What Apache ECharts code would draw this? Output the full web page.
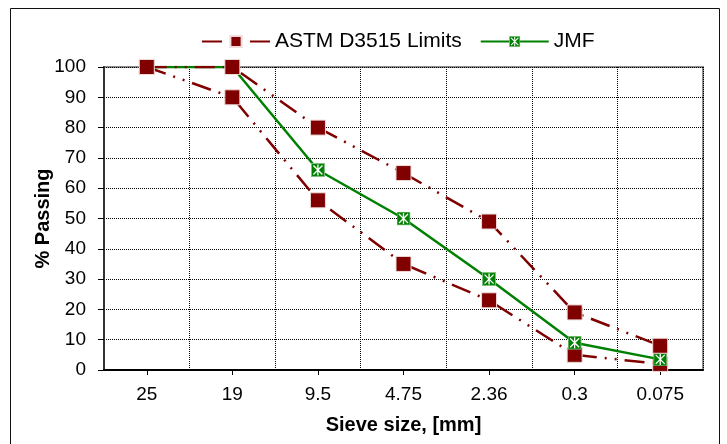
<!DOCTYPE html>
<html>
<head>
<meta charset="utf-8">
<script src="https://cdn.jsdelivr.net/npm/echarts@6/dist/echarts.min.js"></script>
<style>
html,body{margin:0;padding:0;background:#fff;}
#chart{width:727px;height:444px;}
</style>
</head>
<body>
<div id="chart"></div>
<script>
var categories = ['25', '19', '9.5', '4.75', '2.36', '0.3', '0.075'];
var astmUpper = [100, 100, 80, 65, 49, 19, 8];
var astmLower = [100, 90, 56, 35, 23, 5, 2];
var jmf = [100, 100, 66, 50, 30, 9, 3.5];
var yTicks = [0, 10, 20, 30, 40, 50, 60, 70, 80, 90, 100];

var FONT = "'Liberation Sans', Arial, sans-serif";
var RED = '#800000';
var GREEN = '#008000';
var dashPattern = [20, 8, 2, 8, 2, 8];

var jmfSvg = "<svg xmlns='http://www.w3.org/2000/svg' width='14' height='14'>" +
  "<rect x='0.5' y='0.5' width='13' height='13' fill='#008000' stroke='#7fbf7f' stroke-width='1'/>" +
  "<path d='M2.5 2.5L11.5 11.5M11.5 2.5L2.5 11.5M7 1.5V12.5' stroke='#ffffff' stroke-width='1.3' fill='none'/>" +
  "</svg>";
var jmfSymbol = 'image://data:image/svg+xml;charset=utf-8,' + encodeURIComponent(jmfSvg);

var chart = echarts.init(document.getElementById('chart'), null, {renderer: 'canvas'});

var astmLine = {color: RED, width: 2.5, type: dashPattern};
var astmItem = {color: RED, borderColor: '#f0dada', borderWidth: 1};

chart.setOption({
  animation: false,
  backgroundColor: '#fff',
  graphic: [{
    type: 'rect',
    shape: {x: 10.5, y: 8.5, width: 709, height: 450},
    style: {fill: null, stroke: '#111', lineWidth: 1},
    silent: true,
    z: -10
  }],
  legend: {
    data: ['ASTM D3515 Limits', 'JMF'],
    left: 196,
    top: 26,
    itemWidth: 68,
    itemHeight: 14,
    itemGap: 18,
    textStyle: {fontFamily: FONT, fontSize: 21, color: '#000'}
  },
  grid: {
    left: 104, right: 24, top: 67, bottom: 74,
    show: true, borderColor: '#8c8c8c', borderWidth: 2, backgroundColor: 'transparent'
  },
  xAxis: {
    type: 'category',
    data: categories,
    boundaryGap: true,
    name: 'Sieve size, [mm]',
    nameLocation: 'middle',
    nameGap: 45,
    nameMoveOverlap: false,
    nameTextStyle: {fontFamily: FONT, fontSize: 20, fontWeight: 'bold', color: '#000'},
    axisLine: {show: true, lineStyle: {color: '#000', width: 2}},
    axisTick: {show: true, alignWithLabel: true, length: 5, lineStyle: {color: '#000', width: 1}},
    axisLabel: {fontFamily: FONT, fontSize: 19, color: '#000', margin: 15},
    splitLine: {show: true, lineStyle: {color: '#000', width: 1, type: 'dotted'}}
  },
  yAxis: {
    type: 'value',
    min: yTicks[0],
    max: yTicks[yTicks.length - 1],
    interval: 10,
    name: '% Passing',
    nameLocation: 'middle',
    nameGap: 51,
    nameMoveOverlap: false,
    nameRotate: 90,
    nameTextStyle: {fontFamily: FONT, fontSize: 20, fontWeight: 'bold', color: '#000'},
    axisLine: {show: true, lineStyle: {color: '#333', width: 2}},
    axisTick: {show: true, inside: false, length: 6, lineStyle: {color: '#000', width: 1}},
    axisLabel: {fontFamily: FONT, fontSize: 19, color: '#000', margin: 18},
    splitLine: {show: true, lineStyle: {color: '#000', width: 1, type: 'dotted'}}
  },
  series: [
    {
      name: 'ASTM D3515 Limits',
      type: 'line',
      data: astmLower,
      symbol: 'rect',
      symbolSize: 15,
      lineStyle: astmLine,
      itemStyle: astmItem,
      z: 2
    },
    {
      name: 'JMF',
      type: 'line',
      data: jmf,
      symbol: jmfSymbol,
      symbolSize: 14,
      lineStyle: {color: GREEN, width: 2.5, type: 'solid'},
      itemStyle: {color: GREEN},
      z: 3
    },
    {
      name: 'ASTM D3515 Limits',
      type: 'line',
      data: astmUpper,
      symbol: 'rect',
      symbolSize: 15,
      lineStyle: astmLine,
      itemStyle: astmItem,
      z: 4
    }
  ]
});
</script>
</body>
</html>
